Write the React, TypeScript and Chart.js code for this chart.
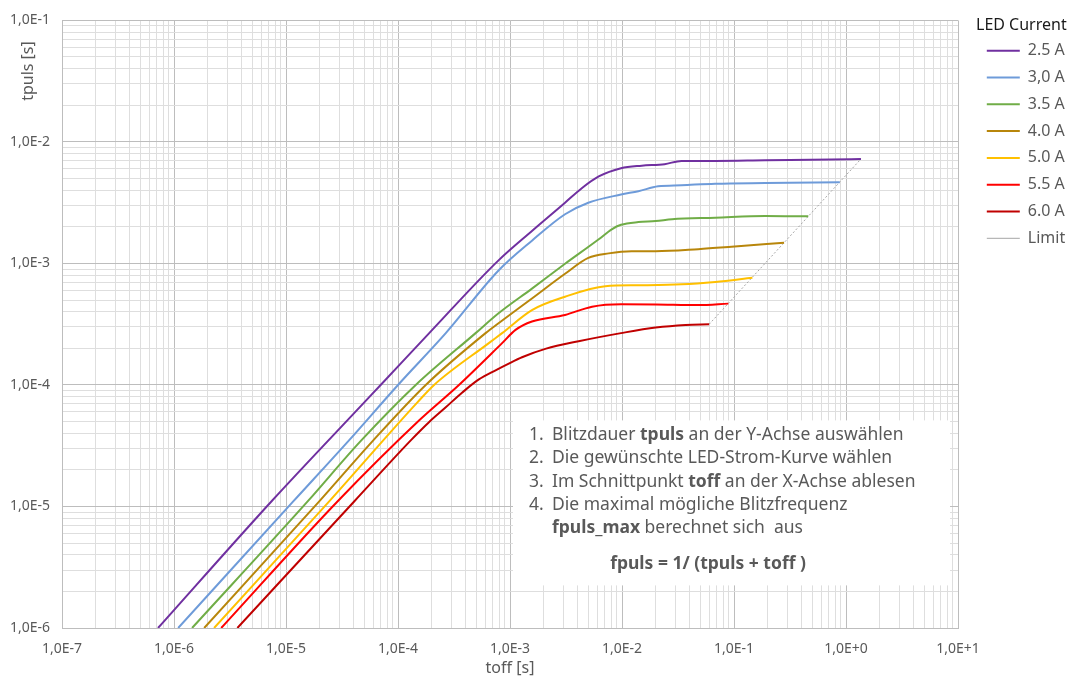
import React, { useEffect, useRef } from 'react';
import { Chart, registerables } from 'chart.js';

Chart.register(...registerables);
Chart.defaults.font.family = '"Noto Sans", "DejaVu Sans", sans-serif';

// ---- data (toff [s] -> tpuls [s]) ----
const seriesLabels = ['2.5 A', '3,0 A', '3.5 A', '4.0 A', '5.0 A', '5.5 A', '6.0 A'];
const seriesColors = ['#7030A0', '#6E9BD9', '#70AD47', '#B8860B', '#FFC000', '#FF0000', '#C00000'];

const x25 = [7.2e-7, 7.4e-6, 5.0e-5, 7.0e-5, 1.9e-4, 7.9e-4, 1.57e-3, 3.1e-3, 4.4e-3, 6.2e-3, 9.8e-3, 1.5e-2, 2.4e-2, 3.4e-2, 6.8e-2, 0.19, 0.74, 1.36];
const y25 = [1.0e-6, 1.1e-5, 7.19e-5, 1.0e-4, 2.67e-4, 1.06e-3, 1.85e-3, 3.16e-3, 4.18e-3, 5.2e-3, 6.08e-3, 6.38e-3, 6.56e-3, 6.98e-3, 6.98e-3, 7.06e-3, 7.15e-3, 7.24e-3];

const x30 = [1.09e-6, 1.16e-5, 3.55e-5, 1.0e-4, 2.67e-4, 7.9e-4, 1.57e-3, 3.1e-3, 5.0e-3, 9.8e-3, 1.4e-2, 2.1e-2, 3.4e-2, 6.8e-2, 0.19, 0.88];
const y30 = [1.0e-6, 1.1e-5, 3.4e-5, 1.0e-4, 2.67e-4, 8.75e-4, 1.54e-3, 2.54e-3, 3.16e-3, 3.69e-3, 3.93e-3, 4.31e-3, 4.4e-3, 4.53e-3, 4.59e-3, 4.65e-3];

const x35 = [1.45e-6, 1.56e-5, 4.57e-5, 1.44e-4, 4.93e-4, 7.9e-4, 1.57e-3, 3.1e-3, 6.2e-3, 8.1e-3, 9.8e-3, 1.4e-2, 2.0e-2, 2.8e-2, 6.8e-2, 0.19, 0.46];
const y35 = [1.0e-6, 1.1e-5, 3.4e-5, 1.0e-4, 2.67e-4, 3.89e-4, 6.21e-4, 9.93e-4, 1.58e-3, 1.91e-3, 2.08e-3, 2.19e-3, 2.23e-3, 2.31e-3, 2.38e-3, 2.46e-3, 2.44e-3];

const x40 = [1.86e-6, 1.98e-5, 5.85e-5, 1.77e-4, 6.05e-4, 7.9e-4, 1.57e-3, 3.1e-3, 5.0e-3, 7.6e-3, 1.22e-2, 2.0e-2, 4.8e-2, 9.5e-2, 0.28];
const y40 = [1.0e-6, 1.1e-5, 3.4e-5, 1.0e-4, 2.67e-4, 3.22e-4, 5.15e-4, 8.22e-4, 1.11e-3, 1.21e-3, 1.26e-3, 1.26e-3, 1.31e-3, 1.37e-3, 1.48e-3];

const x50 = [2.28e-6, 2.43e-5, 1.49e-4, 2.1e-4, 6.47e-4, 8.5e-4, 1.57e-3, 3.1e-3, 7.1e-3, 1.4e-2, 3.4e-2, 6.8e-2, 0.146];
const y50 = [1.0e-6, 1.1e-5, 7.19e-5, 1.0e-4, 2.21e-4, 2.67e-4, 4.13e-4, 5.32e-4, 6.49e-4, 6.61e-4, 6.73e-4, 7.05e-4, 7.63e-4];

const x55 = [2.64e-6, 2.88e-5, 1.54e-4, 3.5e-4, 8.5e-4, 1.12e-3, 1.57e-3, 3.1e-3, 5.4e-3, 9.8e-3, 2.0e-2, 4.8e-2, 8.9e-2];
const y55 = [1.0e-6, 1.1e-5, 5.1e-5, 1.0e-4, 2.21e-4, 2.84e-4, 3.33e-4, 3.77e-4, 4.41e-4, 4.62e-4, 4.6e-4, 4.54e-4, 4.67e-4];

const x60 = [3.68e-6, 4.06e-5, 1.3e-4, 1.89e-4, 2.67e-4, 3.75e-4, 5.27e-4, 7.43e-4, 9.75e-4, 1.28e-3, 2.1e-3, 4.1e-3, 9.8e-3, 2.0e-2, 3.7e-2, 6.0e-2];
const y60 = [1.0e-6, 1.1e-5, 3.5e-5, 4.94e-5, 6.55e-5, 8.67e-5, 1.11e-4, 1.32e-4, 1.5e-4, 1.69e-4, 1.99e-4, 2.29e-4, 2.67e-4, 2.97e-4, 3.12e-4, 3.16e-4];

const limitLabel = 'Limit';
const limitX = [6.0e-2, 1.36];
const limitY = [3.16e-4, 7.24e-3];

const seriesX = [x25, x30, x35, x40, x50, x55, x60];
const seriesY = [y25, y30, y35, y40, y50, y55, y60];

// ---- axes ----
const xDecades = [1e-7, 1e-6, 1e-5, 1e-4, 1e-3, 1e-2, 1e-1, 1e0, 1e1];
const xTickLabels = ['1,0E-7', '1,0E-6', '1,0E-5', '1,0E-4', '1,0E-3', '1,0E-2', '1,0E-1', '1,0E+0', '1,0E+1'];
const yDecades = [1e-6, 1e-5, 1e-4, 1e-3, 1e-2, 1e-1];
const yTickLabels = ['1,0E-6', '1,0E-5', '1,0E-4', '1,0E-3', '1,0E-2', '1,0E-1'];
const mantissas = [1, 2, 3, 4, 5, 6, 7, 8, 9];

const xTitle = 'toff [s]';
const yTitle = 'tpuls [s]';
const legendTitle = 'LED Current';

const noteLines: [string, [string, boolean][]][] = [
  ['1.', [['Blitzdauer ', false], ['tpuls', true], [' an der Y-Achse auswählen', false]]],
  ['2.', [['Die gewünschte LED-Strom-Kurve wählen', false]]],
  ['3.', [['Im Schnittpunkt ', false], ['toff', true], [' an der X-Achse ablesen', false]]],
  ['4.', [['Die maximal mögliche Blitzfrequenz', false]]],
  ['', [['fpuls_max', true], [' berechnet sich  aus', false]]],
];
const noteFormula = 'fpuls = 1/ (tpuls + toff )';

const TEXT = '#595959';
const GRID_MAJOR = '#BDBDBD';
const GRID_MINOR = '#DEDEDE';
const FONT = '"Noto Sans", "DejaVu Sans", sans-serif';

function buildTicks(decades: number[]) {
  const out: { value: number }[] = [];
  for (let i = 0; i < decades.length - 1; i++) {
    for (const m of mantissas) out.push({ value: Number((m * decades[i]).toPrecision(12)) });
  }
  out.push({ value: decades[decades.length - 1] });
  return out;
}
function decadeIndex(decades: number[], v: number) {
  return decades.findIndex((d) => Math.abs(v / d - 1) < 1e-9);
}

const notePlugin = {
  id: 'noteBox',
  afterDatasetsDraw(chart: any) {
    const ctx: CanvasRenderingContext2D = chart.ctx;
    const ca = chart.chartArea;
    const bx = ca.left + 451;
    const by = ca.top + 400;
    ctx.save();
    ctx.fillStyle = '#ffffff';
    ctx.fillRect(bx, by, 437, 165);
    ctx.fillStyle = TEXT;
    ctx.textBaseline = 'middle';
    ctx.textAlign = 'left';
    const normal = `17.5px ${FONT}`;
    const bold = `bold 17.5px ${FONT}`;
    noteLines.forEach(([num, segs], i) => {
      const y = by + 15 + i * 23.1;
      ctx.font = normal;
      if (num) ctx.fillText(num, bx + 16, y);
      let x = bx + 39;
      for (const [t, b] of segs) {
        ctx.font = b ? bold : normal;
        ctx.fillText(t, x, y);
        x += ctx.measureText(t).width;
      }
    });
    ctx.font = bold;
    ctx.textAlign = 'center';
    ctx.fillText(noteFormula, bx + 195, by + 144);
    ctx.restore();
  },
};

const legendShiftPlugin = {
  id: 'legendShift',
  afterLayout(chart: any) {
    const lg = chart.legend;
    if (lg) {
      lg.left += 18;
      lg.right += 18;
    }
  },
};

export default function App() {
  const ref = useRef<HTMLCanvasElement>(null);
  useEffect(() => {
    if (!ref.current) return;
    const datasets: any[] = seriesLabels.map((label, i) => ({
      label,
      data: seriesX[i].map((x, j) => ({ x, y: seriesY[i][j] })),
      borderColor: seriesColors[i],
      backgroundColor: seriesColors[i],
      borderWidth: 2,
      pointRadius: 0,
      showLine: true,
      fill: false,
      cubicInterpolationMode: 'monotone',
    }));
    datasets.push({
      label: limitLabel,
      data: limitX.map((x, j) => ({ x, y: limitY[j] })),
      borderColor: '#A6A6A6',
      backgroundColor: '#A6A6A6',
      borderWidth: 1,
      borderDash: [2, 2],
      pointRadius: 0,
      showLine: true,
      fill: false,
    });
    const gridColor = (decades: number[]) => (c: any) =>
      c.tick && decadeIndex(decades, c.tick.value) >= 0 ? GRID_MAJOR : GRID_MINOR;

    const chart = new Chart(ref.current, {
      type: 'scatter',
      data: { datasets },
      plugins: [notePlugin, legendShiftPlugin],
      options: {
        animation: false,
        responsive: false,
        events: [],
        layout: { padding: { top: 14, left: 0, right: 0, bottom: 0 } },
        plugins: {
          tooltip: { enabled: false },
          legend: {
            position: 'right',
            align: 'start',
            title: {
              display: true,
              text: legendTitle,
              color: '#1a1a1a',
              position: 'start',
              font: { size: 16, family: FONT },
              padding: { top: 3, bottom: -4.3 },
            },
            labels: {
              usePointStyle: true,
              pointStyle: 'line',
              pointStyleWidth: 33,
              padding: 10.8,
              color: TEXT,
              font: { size: 16, family: FONT },
            },
          },
        },
        scales: {
          x: {
            type: 'logarithmic',
            min: 1e-7,
            max: 10,
            afterBuildTicks: (s: any) => { s.ticks = buildTicks(xDecades); },
            afterFit: (s: any) => { s.height = 51; s.paddingRight = 116; },
            ticks: {
              autoSkip: false,
              maxRotation: 0,
              minRotation: 0,
              padding: 13,
              color: TEXT,
              font: { size: 14, family: FONT },
              callback: (v: any) => {
                const i = decadeIndex(xDecades, Number(v));
                return i >= 0 ? xTickLabels[i] : '';
              },
            },
            grid: { color: gridColor(xDecades), drawTicks: false, lineWidth: 1 },
            border: { display: true, color: GRID_MAJOR },
            title: {
              display: true,
              text: xTitle,
              color: TEXT,
              font: { size: 16, family: FONT },
              padding: { top: 0, bottom: 1 },
            },
          },
          y: {
            type: 'logarithmic',
            min: 1e-6,
            max: 1e-1,
            afterBuildTicks: (s: any) => { s.ticks = buildTicks(yDecades); },
            afterFit: (s: any) => { s.width = 62; },
            ticks: {
              autoSkip: false,
              padding: 12,
              color: TEXT,
              font: { size: 14, family: FONT },
              callback: (v: any) => {
                const i = decadeIndex(yDecades, Number(v));
                return i >= 0 ? yTickLabels[i] : '';
              },
            },
            grid: { color: gridColor(yDecades), drawTicks: false, lineWidth: 1 },
            border: { display: true, color: GRID_MAJOR },
            title: {
              display: true,
              text: yTitle + '     ',
              align: 'end',
              color: TEXT,
              font: { size: 16, family: FONT },
              padding: { top: 18.4, bottom: 0 },
            },
          },
        },
      } as any,
    });
    return () => chart.destroy();
  }, []);

  return (
    <div style={{ position: 'absolute', left: 0, top: 0, width: 1074, height: 679, background: '#fff' }}>
      <canvas ref={ref} width={1074} height={679} style={{ display: 'block', width: 1074, height: 679 }} />
    </div>
  );
}
